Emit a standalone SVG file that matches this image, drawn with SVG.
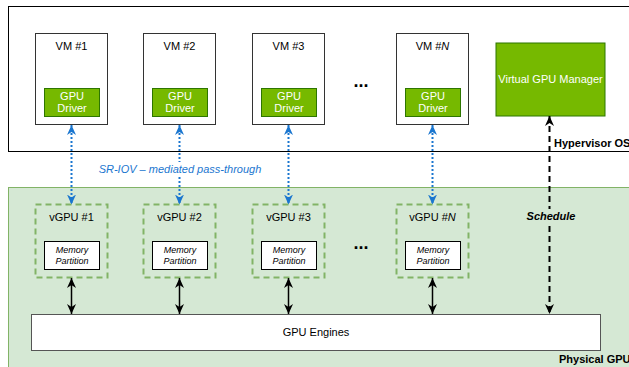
<svg xmlns="http://www.w3.org/2000/svg" width="629" height="367" viewBox="0 0 629 367">
<style>
text{font-family:"Liberation Sans",Arial,sans-serif;font-size:11px;text-anchor:middle}
.vm{fill:#fff;stroke:#333;stroke-width:1}
.drv{fill:#76B900;stroke:#2D7600;stroke-width:1}
.wt{fill:#fff}
.vg{fill:none;stroke:#82B366;stroke-width:2;stroke-dasharray:6 4}
.mp{fill:#fff;stroke:#000;stroke-width:1}
.mt{font-size:9px;font-style:italic}
.blue{stroke:#1A76CF;stroke-width:2;stroke-dasharray:2 2;fill:none}
.blk{stroke:#000;stroke-width:1.5;fill:none}
.sch{stroke:#000;stroke-width:2;stroke-dasharray:6 4;fill:none}
.dots{font-size:18px;font-weight:bold}
.lbl{font-weight:bold;text-anchor:start}
</style>
<defs>
<marker id="ab" markerUnits="userSpaceOnUse" markerWidth="10" markerHeight="10" viewBox="0 0 10 10" refX="10" refY="5" orient="auto-start-reverse"><path d="M0,0.5 L10,5 L0,9.5 L3,5 z" fill="#1A76CF"/></marker>
<marker id="ak" markerUnits="userSpaceOnUse" markerWidth="10" markerHeight="10" viewBox="0 0 10 10" refX="10" refY="5" orient="auto-start-reverse"><path d="M0,0.5 L10,5 L0,9.5 L3,5 z" fill="#000"/></marker>
</defs>
<g id="hypervisor">
<rect x="8.5" y="6.5" width="640" height="145" fill="#fff" stroke="#000" stroke-width="1"/>
<text class="lbl" x="554" y="147">Hypervisor OS</text>
</g>
<g id="physical-gpu">
<rect x="8.5" y="187.5" width="640" height="200" fill="#D5E8D4" stroke="#82B366" stroke-width="1"/>
<text class="lbl" x="559" y="363">Physical GPU</text>
</g>
<g id="vm1"><rect class="vm" x="35.5" y="33.5" width="72" height="91"/><text x="71.5" y="50">VM #1</text>
<rect class="drv" x="44.5" y="88.5" width="55" height="28"/><text class="wt" x="72" y="99.5">GPU</text><text class="wt" x="72" y="111.5">Driver</text></g>
<g id="vm2"><rect class="vm" x="143.5" y="33.5" width="72" height="91"/><text x="179.5" y="50">VM #2</text>
<rect class="drv" x="152.5" y="88.5" width="55" height="28"/><text class="wt" x="180" y="99.5">GPU</text><text class="wt" x="180" y="111.5">Driver</text></g>
<g id="vm3"><rect class="vm" x="252.5" y="33.5" width="72" height="91"/><text x="288.5" y="50">VM #3</text>
<rect class="drv" x="261.5" y="88.5" width="55" height="28"/><text class="wt" x="289" y="99.5">GPU</text><text class="wt" x="289" y="111.5">Driver</text></g>
<g id="vmN"><rect class="vm" x="396.5" y="33.5" width="72" height="91"/><text x="432.5" y="50">VM #<tspan font-style="italic">N</tspan></text>
<rect class="drv" x="405.5" y="88.5" width="55" height="28"/><text class="wt" x="433" y="99.5">GPU</text><text class="wt" x="433" y="111.5">Driver</text></g>
<g id="vm-dots"><text class="dots" x="361" y="87">...</text></g>
<g id="vgpu-manager"><rect class="drv" x="496" y="43" width="109" height="73"/><text class="wt" x="550.5" y="83">Virtual GPU Manager</text></g>
<g id="vgpu1"><rect class="vg" x="35.5" y="204.5" width="72" height="73"/><text x="71.5" y="221">vGPU #1</text>
<rect class="mp" x="44.5" y="241.5" width="55" height="28"/><text class="mt" x="72" y="253">Memory</text><text class="mt" x="72" y="264">Partition</text></g>
<g id="vgpu2"><rect class="vg" x="143.5" y="204.5" width="72" height="73"/><text x="179.5" y="221">vGPU #2</text>
<rect class="mp" x="152.5" y="241.5" width="55" height="28"/><text class="mt" x="180" y="253">Memory</text><text class="mt" x="180" y="264">Partition</text></g>
<g id="vgpu3"><rect class="vg" x="252.5" y="204.5" width="72" height="73"/><text x="288.5" y="221">vGPU #3</text>
<rect class="mp" x="261.5" y="241.5" width="55" height="28"/><text class="mt" x="289" y="253">Memory</text><text class="mt" x="289" y="264">Partition</text></g>
<g id="vgpuN"><rect class="vg" x="396.5" y="204.5" width="72" height="73"/><text x="432.5" y="221">vGPU #<tspan font-style="italic">N</tspan></text>
<rect class="mp" x="405.5" y="241.5" width="55" height="28"/><text class="mt" x="433" y="253">Memory</text><text class="mt" x="433" y="264">Partition</text></g>
<g id="vgpu-dots"><text class="dots" x="361" y="249">...</text></g>
<g id="gpu-engines"><rect x="31.5" y="314.5" width="569" height="36" fill="#fff" stroke="#555" stroke-width="1"/><text x="316" y="336">GPU Engines</text></g>
<g id="connectors">
<path class="blue" d="M71.5,125 V204.5" marker-start="url(#ab)" marker-end="url(#ab)"/>
<path class="blue" d="M179.5,125 V204.5" marker-start="url(#ab)" marker-end="url(#ab)"/>
<path class="blue" d="M288.5,125 V204.5" marker-start="url(#ab)" marker-end="url(#ab)"/>
<path class="blue" d="M432.5,125 V204.5" marker-start="url(#ab)" marker-end="url(#ab)"/>
<rect x="98" y="162" width="164" height="14" fill="#fff"/>
<text x="180" y="173" font-style="italic" fill="#1A76CF">SR-IOV – mediated pass-through</text>
<path class="blk" d="M71.5,278 V314" marker-start="url(#ak)" marker-end="url(#ak)"/>
<path class="blk" d="M179.5,278 V314" marker-start="url(#ak)" marker-end="url(#ak)"/>
<path class="blk" d="M288.5,278 V314" marker-start="url(#ak)" marker-end="url(#ak)"/>
<path class="blk" d="M432.5,278 V314" marker-start="url(#ak)" marker-end="url(#ak)"/>
<path class="sch" d="M549.5,116 V314" marker-start="url(#ak)" marker-end="url(#ak)"/>
<rect x="528" y="209" width="46" height="14" fill="#D5E8D4"/>
<text x="551" y="219.5" font-size="10px" font-weight="bold" font-style="italic">Schedule</text>
</g>
</svg>
